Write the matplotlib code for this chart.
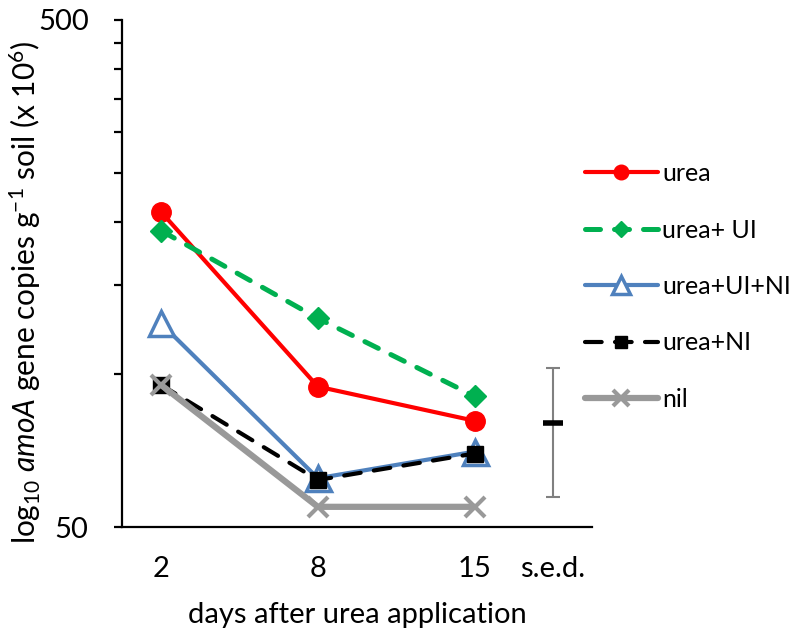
import matplotlib
matplotlib.use("Agg")
import matplotlib.pyplot as plt
from matplotlib.ticker import NullLocator, FixedLocator
import numpy as np

plt.rcParams['font.family'] = ['Lato', 'DejaVu Sans']
plt.rcParams['mathtext.fontset'] = 'custom'
plt.rcParams['mathtext.rm'] = 'Lato'
plt.rcParams['mathtext.it'] = 'Lato:italic'

# ---- data ----
days = ["2", "8", "15"]
series_names = ["urea", "urea+ UI", "urea+UI+NI", "urea+NI", "nil"]
urea = [209, 94.6, 81.0]
urea_ui = [192, 129, 90.6]
urea_ui_ni = [126, 62.4, 70.4]
urea_ni = [95.3, 61.9, 69.8]
nil = [95.3, 54.8, 54.8]
sed_center = 80.3
sed_low = 57.3
sed_high = 103.1
ytick_values = [50, 100, 150, 200, 250, 300, 350, 400, 450, 500]
ytick_labels = ["50", "", "", "", "", "", "", "", "", "500"]
sed_label = "s.e.d."

fig = plt.figure(figsize=(8.0, 6.37), dpi=100)
ax = fig.add_axes([122/800, 1-527/637, (592-122)/800, (527-20)/637])

xpos = np.array([0.5, 2.5, 4.5])
sed_x = 5.5

styles = [
    dict(color='#FF0000', lw=3.0, marker='o', ms=14, mfc='#FF0000', mec='#FF0000', ls='-'),
    dict(color='#00B050', lw=3.6, marker='D', ms=11, mfc='#00B050', mec='#00B050',
         ls=(0, (3.0, 2.8)), dash_capstyle='round'),
    dict(color='#4F81BD', lw=3.0, marker='^', ms=18, mfc='white', mec='#4F81BD', mew=2.5, ls='-'),
    dict(color='black', lw=3.0, marker='s', ms=12, mfc='black', mec='black',
         ls=(0, (4.0, 3.2)), dash_capstyle='round'),
    dict(color='#999999', lw=4.5, marker='x', ms=15, mec='#999999', mew=3.0, ls='-'),
]
data = [urea, urea_ui, urea_ui_ni, urea_ni, nil]
handles = []
for name, vals, st in zip(series_names, data, styles):
    h, = ax.plot(xpos, vals, label=name, solid_capstyle='round', **st)
    handles.append(h)

# s.e.d. bar
ax.errorbar([sed_x], [sed_center],
            yerr=[[sed_center - sed_low], [sed_high - sed_center]],
            fmt='none', ecolor='#808080', elinewidth=1.5, capsize=5, capthick=1.5)
ax.plot([sed_x], [sed_center], marker='_', ms=15, mew=4, color='black', ls='none')

ax.set_yscale('log')
ax.set_ylim(50, 500)
ax.set_xlim(0, 6)
ax.yaxis.set_major_locator(FixedLocator(ytick_values))
ax.yaxis.set_minor_locator(NullLocator())
ax.set_yticklabels(ytick_labels)
ax.set_xticks(list(xpos) + [sed_x])
ax.set_xticklabels(days + [sed_label])

for s in ['top', 'right']:
    ax.spines[s].set_visible(False)
for s in ['left', 'bottom']:
    ax.spines[s].set_linewidth(1.6)
    ax.spines[s].set_color('black')

ax.tick_params(axis='y', direction='out', length=6, width=1.6, labelsize=21, pad=18)
ax.tick_params(axis='x', length=0, labelsize=21, pad=21)

ax.set_xlabel("days after urea application", fontsize=21, labelpad=14)
fig.text(25/800, 1-292/637,
         r"log$_{10}$ $\it{amoA}$ gene copies g$^{-1}$ soil (x 10$^{6}$)",
         fontsize=21.5, rotation=90, ha='center', va='center')

leg = fig.legend(handles=handles, labels=series_names, loc='upper left',
                 bbox_to_anchor=(575/800, 1-152/637), frameon=False,
                 fontsize=18, handlelength=2.9, labelspacing=1.34, handletextpad=0.2,
                 borderaxespad=0, markerscale=0.75)

fig.savefig("out.png", dpi=100)
